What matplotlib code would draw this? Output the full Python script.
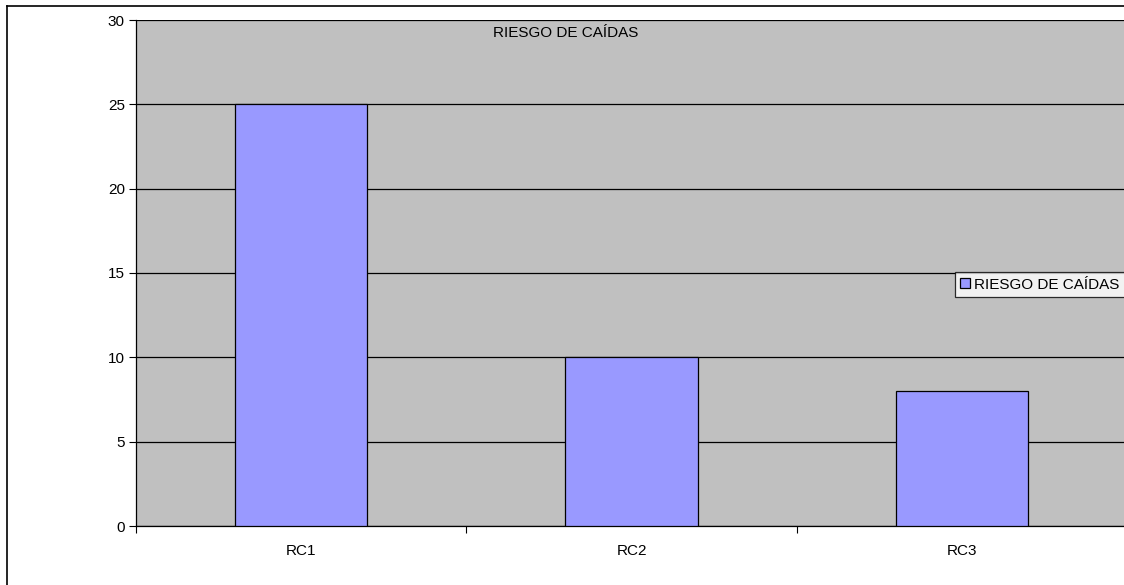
import matplotlib
matplotlib.use('Agg')
import matplotlib.pyplot as plt
from matplotlib.lines import Line2D

categories = ['RC1', 'RC2', 'RC3']
values = [25, 10, 8]
series_name = 'RIESGO DE CAÍDAS'
yticks = [0, 5, 10, 15, 20, 25, 30]


def main():
  plt.rcParams['font.family'] = ['Liberation Sans', 'DejaVu Sans']
  fig = plt.figure(figsize=(11.24, 5.85), dpi=100)
  ax = fig.add_axes([136 / 1124, 1 - 526 / 585, 991 / 1124, 506 / 585])
  ax.set_facecolor('#C0C0C0')

  x = list(range(len(categories)))
  bars = ax.bar(x, values, width=0.4, color='#9999FF', edgecolor='black',
                linewidth=0.9, zorder=3, label=series_name)

  ax.set_xlim(-0.5, len(categories) - 0.5)
  ax.set_ylim(0, 30)
  ax.set_yticks(yticks)
  ax.yaxis.grid(True, color='black', linewidth=0.9, zorder=1)
  ax.set_axisbelow(True)

  ax.set_xticks(x)
  ax.set_xticklabels(categories, fontsize=11)
  ax.tick_params(axis='x', which='major', length=0, pad=13)
  ax.set_xticks([i - 0.5 for i in range(len(categories) + 1)], minor=True)
  ax.tick_params(axis='x', which='minor', length=5, width=0.8, direction='out')
  ax.tick_params(axis='y', length=5, width=0.8, labelsize=11, pad=3)

  for side in ['top', 'right']:
    ax.spines[side].set_visible(False)
  ax.spines['left'].set_linewidth(0.9)
  ax.spines['bottom'].set_linewidth(0.9)

  ax.text(493 / 1124, 1 - 33 / 585, series_name, transform=fig.transFigure,
          fontsize=11, ha='left', va='center')

  leg = fig.legend(handles=[bars], labels=[series_name], loc='lower left',
                   bbox_to_anchor=(955 / 1124, 1 - 297 / 585),
                   fontsize=11, frameon=True, fancybox=False, borderpad=0.35,
                   handlelength=0.6, handleheight=0.6, handletextpad=0.3,
                   borderaxespad=0)
  leg.get_frame().set_edgecolor('black')
  leg.get_frame().set_linewidth(0.9)

  # outer chart border (cut off at right and bottom)
  fig.add_artist(Line2D([7 / 1124, 7 / 1124], [0, 1 - 6 / 585],
                        transform=fig.transFigure, color='black', linewidth=1.2))
  fig.add_artist(Line2D([7 / 1124, 1], [1 - 6 / 585, 1 - 6 / 585],
                        transform=fig.transFigure, color='black', linewidth=1.2))

  plt.savefig('out.png', dpi=100)


if __name__ == "__main__":
  main()
